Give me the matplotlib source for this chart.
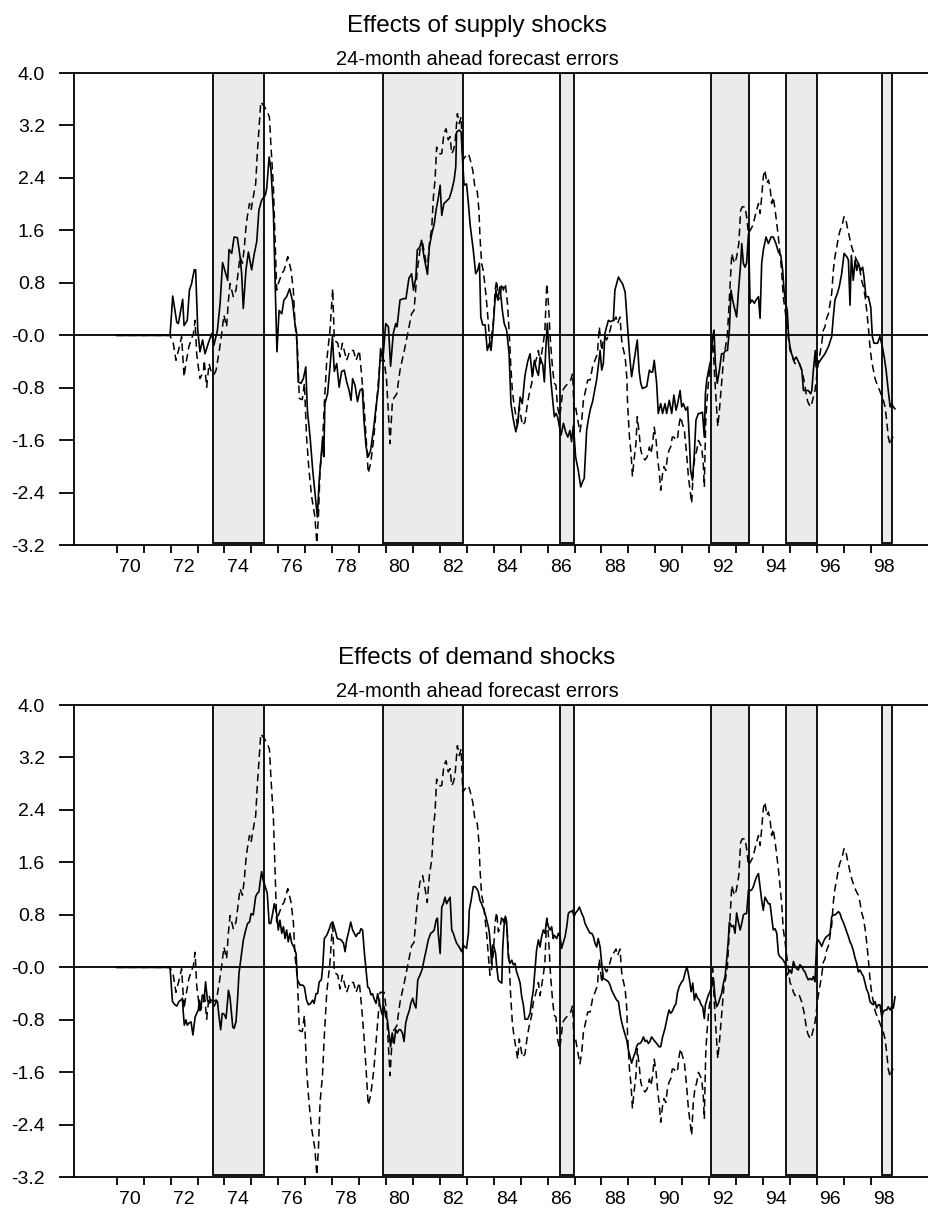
#!/usr/bin/env python3

import matplotlib
matplotlib.use('Agg')
import matplotlib.pyplot as plt  # type: ignore
from matplotlib.ticker import FixedLocator, FixedFormatter, NullFormatter

plt.rcParams['font.family'] = ['Liberation Sans', 'DejaVu Sans']

# recession bands (decimal years)
recessions = [(73.59, 75.48), (79.88, 82.85), (86.46, 86.99),
              (92.06, 93.49), (94.84, 95.99), (98.41, 98.78)]

# dashed line: total forecast errors, same in both panels (year, value)
baseline_pts = [
	(70.00, 0.00), (71.98, 0.00), (72.10, -0.12), (72.20, -0.38), (72.33, -0.17), (72.41, -0.02),
	(72.50, -0.63), (72.57, -0.43), (72.68, -0.17), (72.85, 0.03), (72.91, 0.23), (72.97, -0.28),
	(73.03, -0.48), (73.09, -0.66), (73.22, -0.55), (73.25, -0.38), (73.34, -0.79), (73.43, -0.43),
	(73.49, -0.53), (73.61, -0.60), (73.69, -0.53), (73.81, -0.23), (73.90, 0.03), (73.98, 0.31),
	(74.08, 0.13), (74.15, 0.54), (74.21, 0.79), (74.33, 0.59), (74.43, 0.69), (74.52, 1.00),
	(74.58, 1.20), (74.67, 1.10), (74.74, 1.35), (74.80, 1.65), (74.85, 1.81), (74.93, 2.01),
	(74.99, 1.91), (75.07, 2.11), (75.16, 2.31), (75.22, 2.77), (75.28, 3.13), (75.35, 3.56),
	(75.46, 3.50), (75.57, 3.43), (75.67, 3.33), (75.73, 2.87), (75.82, 2.26), (75.88, 1.50),
	(75.94, 0.69), (76.00, 0.79), (76.13, 0.94), (76.22, 1.00), (76.35, 1.20), (76.47, 1.00),
	(76.56, 0.69), (76.62, 0.18), (76.71, -0.17), (76.78, -0.96), (76.89, -0.98), (76.97, -0.73),
	(77.05, -1.55), (77.14, -2.06), (77.24, -2.46), (77.36, -2.77), (77.43, -3.17), (77.49, -2.77),
	(77.55, -2.06), (77.64, -1.65), (77.71, -1.04), (77.80, -0.38), (77.92, 0.08), (78.02, 0.71),
	(78.08, -0.07), (78.21, -0.12), (78.29, -0.33), (78.38, -0.12), (78.54, -0.38), (78.66, -0.23),
	(78.79, -0.23), (78.89, -0.38), (79.01, -0.23), (79.10, -0.63), (79.18, -1.04), (79.26, -1.55),
	(79.34, -2.10), (79.43, -1.95), (79.55, -1.55), (79.65, -1.04), (79.78, -0.38), (79.93, -0.38),
	(80.02, -0.68), (80.15, -1.65), (80.24, -0.99), (80.40, -0.89), (80.52, -0.53), (80.71, -0.17),
	(80.83, 0.08), (80.95, 0.33), (81.04, 0.38), (81.10, 0.69), (81.16, 0.99), (81.26, 1.30),
	(81.36, 1.40), (81.45, 1.20), (81.53, 0.99), (81.61, 1.40), (81.70, 1.65), (81.76, 2.11),
	(81.82, 2.37), (81.88, 2.87), (81.97, 2.77), (82.07, 2.77), (82.15, 3.08), (82.23, 3.15),
	(82.31, 2.98), (82.38, 3.03), (82.44, 2.77), (82.50, 2.82), (82.56, 2.92), (82.65, 3.38),
	(82.72, 3.23), (82.79, 3.33), (82.85, 2.67), (82.93, 2.72), (83.06, 2.77), (83.12, 2.69),
	(83.22, 2.52), (83.30, 2.26), (83.39, 2.19), (83.45, 1.91), (83.49, 1.50), (83.55, 1.10),
	(83.61, 0.99), (83.68, 0.74), (83.74, 0.49), (83.80, 0.18), (83.86, -0.12), (83.92, -0.02),
	(83.99, 0.23), (84.05, 0.69), (84.11, 0.84), (84.17, 0.54), (84.23, 0.59), (84.30, 0.79),
	(84.36, 0.69), (84.43, 0.79), (84.51, 0.49), (84.57, 0.08), (84.63, -0.43), (84.69, -0.84),
	(84.75, -1.04), (84.83, -1.24), (84.89, -1.40), (84.95, -1.09), (85.01, -1.24), (85.07, -1.37),
	(85.16, -1.32), (85.25, -1.04), (85.32, -0.89), (85.41, -0.73), (85.47, -0.53), (85.57, -0.38),
	(85.66, -0.23), (85.72, -0.43), (85.78, -0.28), (85.84, -0.12), (85.90, 0.08), (85.97, 0.79),
	(86.03, 0.49), (86.07, 0.18), (86.11, -0.12), (86.19, -0.53), (86.25, -0.73), (86.31, -0.76),
	(86.37, -1.09), (86.44, -1.24), (86.50, -1.09), (86.56, -0.84), (86.65, -0.78), (86.77, -0.73),
	(86.86, -0.68), (86.93, -0.58), (86.98, -1.14), (87.04, -1.09), (87.12, -1.29), (87.20, -1.47),
	(87.27, -1.29), (87.33, -0.99), (87.41, -0.84), (87.49, -0.68), (87.58, -0.68), (87.67, -0.48),
	(87.76, -0.38), (87.85, -0.28), (87.92, 0.13), (88.01, -0.23), (88.07, -0.07), (88.13, -0.02),
	(88.19, -0.07), (88.29, 0.03), (88.38, 0.18), (88.47, 0.23), (88.54, 0.28), (88.60, 0.18),
	(88.69, 0.28), (88.75, -0.07), (88.79, -0.17), (88.88, -0.33), (88.94, -0.63), (88.97, -1.04),
	(89.04, -1.55), (89.10, -1.80), (89.15, -2.15), (89.21, -1.90), (89.28, -1.65), (89.33, -1.24),
	(89.39, -1.45), (89.46, -1.75), (89.53, -1.85), (89.62, -1.90), (89.70, -1.85), (89.78, -1.70),
	(89.84, -1.80), (89.90, -1.65), (89.96, -1.40), (90.03, -1.60), (90.09, -1.90), (90.14, -2.06),
	(90.20, -2.36), (90.27, -2.11), (90.32, -2.00), (90.39, -2.06), (90.45, -1.85), (90.51, -1.75),
	(90.57, -1.70), (90.63, -1.55), (90.69, -1.55), (90.77, -1.60), (90.83, -1.55), (90.89, -1.34),
	(90.94, -1.24), (91.00, -1.34), (91.08, -1.45), (91.17, -1.85), (91.23, -2.16), (91.29, -2.36),
	(91.35, -2.56), (91.41, -2.06), (91.47, -1.85), (91.54, -1.75), (91.60, -1.60), (91.66, -1.65),
	(91.72, -1.70), (91.78, -1.95), (91.82, -2.31), (91.87, -1.34), (91.91, -1.04), (91.99, -0.63),
	(92.06, -0.43), (92.13, -0.02), (92.19, -0.53), (92.25, -0.94), (92.32, -1.39), (92.38, -1.14),
	(92.44, -0.84), (92.50, -0.53), (92.55, -0.28), (92.61, -0.17), (92.68, 0.03), (92.74, 0.49),
	(92.77, 0.74), (92.84, 1.25), (92.90, 1.15), (92.96, 1.10), (93.02, 1.20), (93.10, 1.40),
	(93.17, 1.91), (93.23, 1.96), (93.33, 1.96), (93.39, 1.81), (93.46, 1.55), (93.52, 1.60),
	(93.59, 1.65), (93.64, 1.70), (93.70, 1.81), (93.76, 1.91), (93.83, 2.01), (93.89, 1.86),
	(93.95, 2.11), (94.01, 2.42), (94.07, 2.52), (94.14, 2.32), (94.20, 2.37), (94.26, 2.26),
	(94.32, 2.01), (94.38, 2.11), (94.45, 1.91), (94.51, 1.70), (94.57, 1.50), (94.63, 1.25),
	(94.69, 0.99), (94.75, 0.59), (94.82, 0.38), (94.88, 0.18), (94.94, -0.02), (95.00, -0.23),
	(95.06, -0.28), (95.13, -0.38), (95.19, -0.43), (95.25, -0.40), (95.35, -0.43), (95.44, -0.53),
	(95.52, -0.68), (95.60, -0.89), (95.66, -1.01), (95.72, -1.06), (95.78, -1.09), (95.93, -0.84),
	(96.05, -0.43), (96.18, -0.12), (96.24, 0.08), (96.30, 0.13), (96.36, 0.26), (96.43, 0.33),
	(96.49, 0.49), (96.55, 0.64), (96.61, 0.99), (96.67, 1.20), (96.74, 1.35), (96.80, 1.50),
	(96.86, 1.60), (96.92, 1.65), (97.01, 1.81), (97.08, 1.76), (97.13, 1.65), (97.21, 1.50),
	(97.26, 1.40), (97.33, 1.30), (97.38, 1.25), (97.45, 1.17), (97.54, 1.10), (97.60, 0.99),
	(97.66, 0.84), (97.73, 0.74), (97.79, 0.59), (97.85, 0.38), (97.91, 0.13), (97.97, -0.17),
	(98.03, -0.38), (98.10, -0.53), (98.16, -0.66), (98.22, -0.73), (98.34, -0.85), (98.47, -0.99),
	(98.53, -1.09), (98.59, -1.29), (98.65, -1.55), (98.72, -1.67), (98.78, -1.57), (98.84, -1.55),
]

# solid line, top panel: effects of supply shocks (year, value)
supply_pts = [
	(70.00, 0.00), (71.98, 0.00), (72.08, 0.60), (72.23, 0.20), (72.29, 0.18), (72.45, 0.55),
	(72.50, 0.15), (72.62, 0.23), (72.70, 0.69), (72.78, 0.79), (72.88, 1.00), (72.93, 1.00),
	(73.01, 0.08), (73.09, -0.25), (73.19, -0.07), (73.28, -0.28), (73.40, -0.12), (73.53, 0.03),
	(73.61, -0.15), (73.74, 0.08), (73.84, 0.49), (73.93, 1.11), (74.05, 0.94), (74.12, 0.84),
	(74.17, 1.31), (74.27, 1.25), (74.36, 1.50), (74.48, 1.49), (74.58, 1.20), (74.64, 0.94),
	(74.70, 0.41), (74.80, 1.00), (74.89, 1.27), (75.01, 1.00), (75.11, 1.25), (75.20, 1.43),
	(75.28, 1.91), (75.38, 2.06), (75.52, 2.14), (75.57, 2.24), (75.66, 2.72), (75.73, 2.52),
	(75.82, 1.86), (75.88, 0.84), (75.95, -0.25), (76.03, 0.38), (76.13, 0.33), (76.21, 0.54),
	(76.31, 0.59), (76.42, 0.71), (76.52, 0.54), (76.62, 0.18), (76.68, 0.03), (76.74, -0.71),
	(76.84, -0.73), (76.93, -0.66), (77.02, -0.48), (77.08, -1.14), (77.18, -1.55), (77.28, -2.06),
	(77.36, -2.39), (77.45, -2.77), (77.52, -2.20), (77.60, -1.80), (77.65, -1.55), (77.69, -1.85),
	(77.73, -1.04), (77.83, -0.89), (77.92, -0.48), (78.01, -0.02), (78.08, -0.55), (78.17, -0.43),
	(78.26, -0.79), (78.35, -0.55), (78.45, -0.53), (78.54, -0.71), (78.63, -0.84), (78.70, -0.99),
	(78.76, -0.66), (78.85, -0.76), (78.94, -1.01), (79.03, -0.84), (79.12, -0.81), (79.18, -1.29),
	(79.26, -1.70), (79.34, -1.85), (79.43, -1.75), (79.53, -1.45), (79.63, -1.09), (79.72, -0.79),
	(79.80, -0.20), (79.88, -0.38), (79.99, 0.18), (80.09, 0.13), (80.17, -0.47), (80.27, 0.03),
	(80.36, 0.18), (80.41, 0.13), (80.52, 0.54), (80.64, 0.56), (80.74, 0.56), (80.85, 0.87),
	(80.95, 0.94), (81.02, 0.69), (81.11, 0.89), (81.16, 1.30), (81.26, 1.35), (81.32, 1.45),
	(81.41, 1.20), (81.54, 0.93), (81.61, 1.35), (81.70, 1.55), (81.79, 1.70), (81.86, 1.91),
	(81.94, 2.09), (82.01, 2.29), (82.07, 1.83), (82.15, 2.01), (82.23, 2.04), (82.35, 2.09),
	(82.44, 2.21), (82.53, 2.37), (82.59, 2.57), (82.62, 3.10), (82.72, 3.13), (82.79, 3.10),
	(82.85, 2.62), (82.90, 2.29), (82.99, 2.31), (83.06, 2.01), (83.12, 1.70), (83.18, 1.50),
	(83.24, 1.30), (83.33, 0.94), (83.40, 0.99), (83.47, 1.10), (83.52, 0.28), (83.59, 0.16),
	(83.68, 0.16), (83.76, -0.23), (83.84, -0.12), (83.90, -0.23), (83.97, 0.08), (84.04, 0.49),
	(84.08, 0.69), (84.15, 0.54), (84.23, 0.74), (84.32, 0.38), (84.39, 0.18), (84.48, 0.08),
	(84.57, -0.28), (84.64, -1.04), (84.73, -1.29), (84.82, -1.47), (84.89, -1.34), (84.98, -0.94),
	(85.06, -1.04), (85.16, -0.61), (85.26, -0.40), (85.35, -0.28), (85.43, -0.63), (85.51, -0.38),
	(85.59, -0.53), (85.66, -0.61), (85.72, -0.33), (85.82, -0.45), (85.88, -0.71), (85.93, -0.23),
	(85.99, 0.18), (86.07, -0.38), (86.13, -0.73), (86.19, -0.99), (86.25, -1.24), (86.31, -1.19),
	(86.37, -1.24), (86.44, -1.39), (86.50, -1.52), (86.59, -1.34), (86.67, -1.47), (86.75, -1.55),
	(86.83, -1.45), (86.89, -1.62), (86.96, -1.37), (87.04, -1.85), (87.14, -2.06), (87.23, -2.31),
	(87.30, -2.23), (87.36, -2.18), (87.45, -1.45), (87.51, -1.29), (87.58, -1.14), (87.67, -1.01),
	(87.74, -0.86), (87.82, -0.68), (87.88, -0.48), (87.95, -0.23), (88.01, -0.53), (88.07, -0.43),
	(88.13, 0.03), (88.19, 0.13), (88.26, 0.23), (88.34, 0.21), (88.44, 0.23), (88.50, 0.69),
	(88.63, 0.89), (88.71, 0.83), (88.78, 0.79), (88.88, 0.66), (88.96, 0.18), (89.04, -0.28),
	(89.12, -0.63), (89.25, -0.28), (89.33, -0.07), (89.40, -0.55), (89.46, -0.73), (89.52, -0.81),
	(89.68, -0.78), (89.78, -0.53), (89.84, -0.56), (89.90, -0.56), (89.96, -0.38), (90.05, -0.73),
	(90.11, -1.19), (90.20, -1.04), (90.27, -1.19), (90.36, -1.04), (90.42, -1.19), (90.52, -0.99),
	(90.61, -1.19), (90.69, -0.91), (90.77, -1.14), (90.83, -1.04), (90.92, -0.84), (90.98, -1.09),
	(91.04, -1.04), (91.13, -1.14), (91.20, -1.09), (91.26, -1.55), (91.31, -2.06), (91.38, -2.21),
	(91.45, -1.80), (91.51, -1.29), (91.60, -1.19), (91.66, -1.19), (91.75, -1.17), (91.82, -1.55),
	(91.86, -0.89), (91.91, -0.68), (91.99, -0.51), (92.06, -0.38), (92.13, -0.02), (92.18, 0.08),
	(92.23, -0.43), (92.30, -0.73), (92.38, -0.53), (92.46, -0.28), (92.53, -0.28), (92.61, -0.23),
	(92.68, -0.23), (92.75, 0.08), (92.81, 0.69), (92.87, 0.54), (92.96, 0.38), (93.02, 0.28),
	(93.10, 0.74), (93.17, 1.10), (93.21, 1.40), (93.27, 1.10), (93.33, 1.04), (93.39, 1.10),
	(93.46, 1.55), (93.52, 0.49), (93.59, 0.54), (93.68, 0.49), (93.74, 0.54), (93.83, 0.59),
	(93.89, 0.26), (93.95, 1.10), (94.01, 1.30), (94.11, 1.50), (94.20, 1.40), (94.30, 1.50),
	(94.38, 1.50), (94.48, 1.40), (94.57, 1.27), (94.66, 1.22), (94.73, 0.99), (94.78, 0.69),
	(94.84, 0.49), (94.90, 0.38), (94.95, -0.02), (95.00, -0.17), (95.06, -0.28), (95.15, -0.38),
	(95.23, -0.33), (95.29, -0.38), (95.35, -0.43), (95.44, -0.53), (95.50, -0.84), (95.60, -0.84),
	(95.68, -0.84), (95.77, -0.89), (95.81, -0.84), (95.87, -0.53), (95.94, -0.23), (95.97, -0.48),
	(96.05, -0.43), (96.18, -0.35), (96.30, -0.28), (96.43, -0.17), (96.55, -0.02), (96.61, 0.28),
	(96.67, 0.54), (96.76, 0.64), (96.83, 0.74), (96.92, 0.94), (97.01, 1.25), (97.11, 1.20),
	(97.17, 1.15), (97.23, 0.46), (97.28, 1.22), (97.35, 0.84), (97.42, 1.15), (97.48, 0.99),
	(97.54, 1.10), (97.63, 0.99), (97.70, 1.04), (97.75, 0.89), (97.82, 0.59), (97.91, 0.59),
	(98.00, 0.43), (98.06, -0.02), (98.12, -0.12), (98.25, -0.12), (98.34, -0.02), (98.43, -0.17),
	(98.50, -0.33), (98.57, -0.53), (98.65, -0.84), (98.72, -1.09), (98.78, -1.04), (98.84, -1.09),
	(98.90, -1.12),
]

# solid line, bottom panel: effects of demand shocks (year, value)
demand_pts = [
	(70.00, 0.00), (71.98, 0.00), (72.02, -0.24), (72.07, -0.52), (72.16, -0.57), (72.23, -0.59),
	(72.31, -0.52), (72.38, -0.50), (72.44, -0.47), (72.47, -0.68), (72.51, -0.88), (72.57, -0.80),
	(72.62, -0.88), (72.68, -0.85), (72.76, -0.83), (72.83, -1.03), (72.91, -0.76), (72.97, -0.70),
	(73.03, -0.65), (73.07, -0.50), (73.12, -0.65), (73.18, -0.42), (73.25, -0.47), (73.30, -0.22),
	(73.37, -0.50), (73.43, -0.55), (73.46, -0.50), (73.53, -0.50), (73.61, -0.52), (73.67, -0.50),
	(73.74, -0.52), (73.80, -0.75), (73.86, -0.95), (73.92, -0.70), (74.00, -0.72), (74.06, -0.78),
	(74.15, -0.35), (74.21, -0.47), (74.31, -0.91), (74.36, -0.93), (74.43, -0.83), (74.49, -0.47),
	(74.54, -0.09), (74.62, 0.16), (74.70, 0.41), (74.79, 0.57), (74.86, 0.67), (74.93, 0.69),
	(74.99, 0.82), (75.07, 0.80), (75.16, 1.08), (75.22, 1.13), (75.28, 1.15), (75.32, 1.28),
	(75.38, 1.46), (75.44, 1.33), (75.53, 1.21), (75.59, 1.13), (75.66, 0.67), (75.72, 0.67),
	(75.79, 0.82), (75.85, 0.97), (75.94, 0.82), (76.00, 0.57), (76.06, 0.72), (76.13, 0.52),
	(76.19, 0.62), (76.25, 0.44), (76.31, 0.57), (76.37, 0.39), (76.43, 0.52), (76.50, 0.37),
	(76.58, 0.31), (76.66, 0.21), (76.71, -0.19), (76.81, -0.27), (76.91, -0.27), (76.97, -0.30),
	(77.05, -0.50), (77.12, -0.57), (77.20, -0.55), (77.28, -0.50), (77.33, -0.55), (77.40, -0.40),
	(77.46, -0.40), (77.52, -0.22), (77.60, -0.19), (77.65, 0.01), (77.71, 0.44), (77.80, 0.49),
	(77.88, 0.57), (77.96, 0.67), (78.02, 0.69), (78.11, 0.57), (78.19, 0.44), (78.27, 0.43),
	(78.33, 0.42), (78.42, 0.37), (78.48, 0.24), (78.54, 0.42), (78.60, 0.52), (78.69, 0.69),
	(78.76, 0.57), (78.82, 0.52), (78.89, 0.47), (78.95, 0.52), (79.01, 0.52), (79.07, 0.59),
	(79.13, 0.57), (79.20, 0.21), (79.26, -0.04), (79.32, -0.30), (79.38, -0.32), (79.44, -0.42),
	(79.50, -0.40), (79.55, -0.47), (79.63, -0.55), (79.69, -0.40), (79.75, -0.52), (79.81, -0.65),
	(79.86, -0.72), (79.93, -0.60), (79.99, -0.75), (80.05, -0.80), (80.11, -1.00), (80.17, -1.21),
	(80.23, -1.00), (80.30, -1.16), (80.36, -0.95), (80.42, -1.00), (80.48, -0.95), (80.54, -0.95),
	(80.61, -1.00), (80.67, -1.13), (80.73, -0.85), (80.79, -0.75), (80.87, -0.65), (80.92, -0.55),
	(80.99, -0.47), (81.04, -0.55), (81.11, -0.62), (81.18, -0.19), (81.26, -0.12), (81.35, -0.02),
	(81.41, 0.11), (81.49, 0.26), (81.57, 0.42), (81.66, 0.52), (81.73, 0.54), (81.79, 0.57),
	(81.86, 0.72), (81.91, 0.75), (81.94, 0.52), (82.01, 0.21), (82.07, 0.92), (82.13, 0.97),
	(82.19, 1.07), (82.25, 0.97), (82.31, 1.02), (82.38, 1.07), (82.44, 0.57), (82.50, 0.52),
	(82.56, 0.44), (82.62, 0.37), (82.72, 0.31), (82.81, 0.24), (82.87, 0.34), (82.93, 0.31),
	(82.99, 0.29), (83.06, 0.52), (83.09, 0.87), (83.16, 1.02), (83.24, 1.23), (83.31, 1.23),
	(83.37, 1.20), (83.43, 1.15), (83.49, 1.02), (83.55, 0.97), (83.61, 0.90), (83.68, 0.82),
	(83.74, 0.72), (83.80, 0.62), (83.84, 0.52), (83.89, 0.26), (83.92, 0.06), (83.96, 0.34),
	(84.01, 0.31), (84.07, 0.21), (84.11, 0.01), (84.17, -0.19), (84.23, -0.22), (84.30, -0.24),
	(84.33, 0.26), (84.38, 0.62), (84.43, 0.78), (84.48, 0.70), (84.54, 0.16), (84.60, 0.06),
	(84.67, 0.11), (84.73, 0.04), (84.79, 0.06), (84.85, -0.07), (84.91, -0.14), (84.98, -0.24),
	(85.04, -0.45), (85.10, -0.57), (85.16, -0.79), (85.26, -0.79), (85.35, -0.70), (85.41, -0.50),
	(85.47, -0.35), (85.53, -0.04), (85.59, 0.26), (85.66, 0.42), (85.72, 0.31), (85.78, 0.47),
	(85.84, 0.57), (85.90, 0.52), (85.97, 0.72), (86.03, 0.62), (86.09, 0.57), (86.15, 0.62),
	(86.21, 0.44), (86.25, 0.49), (86.34, 0.44), (86.40, 0.52), (86.46, 0.47), (86.52, 0.29),
	(86.59, 0.39), (86.65, 0.47), (86.71, 0.62), (86.77, 0.82), (86.83, 0.85), (86.89, 0.85),
	(86.93, 0.87), (86.98, 0.77), (87.04, 0.83), (87.12, 0.87), (87.18, 0.92), (87.27, 0.82),
	(87.33, 0.77), (87.39, 0.67), (87.45, 0.62), (87.51, 0.57), (87.58, 0.52), (87.64, 0.52),
	(87.70, 0.47), (87.76, 0.37), (87.82, 0.31), (87.88, 0.44), (87.95, 0.31), (88.01, 0.06),
	(88.07, -0.17), (88.17, -0.19), (88.26, -0.22), (88.32, -0.27), (88.38, -0.35), (88.44, -0.40),
	(88.50, -0.45), (88.57, -0.50), (88.63, -0.52), (88.69, -0.70), (88.75, -0.83), (88.81, -0.93),
	(88.88, -1.03), (88.94, -1.11), (89.00, -1.26), (89.06, -1.36), (89.12, -1.46), (89.18, -1.38),
	(89.25, -1.30), (89.31, -1.20), (89.37, -1.16), (89.43, -1.16), (89.49, -1.13), (89.56, -1.06),
	(89.62, -1.13), (89.68, -1.11), (89.74, -1.16), (89.80, -1.13), (89.86, -1.06), (89.95, -1.11),
	(90.05, -1.16), (90.14, -1.21), (90.20, -1.21), (90.27, -1.06), (90.36, -0.93), (90.45, -0.75),
	(90.51, -0.65), (90.57, -0.70), (90.63, -0.67), (90.70, -0.60), (90.77, -0.55), (90.82, -0.39),
	(90.89, -0.29), (90.98, -0.22), (91.04, -0.19), (91.10, -0.09), (91.17, 0.01), (91.20, -0.04),
	(91.26, -0.17), (91.33, -0.37), (91.39, -0.24), (91.45, -0.50), (91.51, -0.40), (91.57, -0.47),
	(91.64, -0.50), (91.70, -0.57), (91.76, -0.60), (91.82, -0.78), (91.86, -0.57), (91.91, -0.50),
	(91.97, -0.42), (92.03, -0.37), (92.09, -0.30), (92.16, -0.17), (92.22, -0.47), (92.28, -0.60),
	(92.34, -0.55), (92.40, -0.47), (92.46, -0.40), (92.53, -0.24), (92.59, -0.14), (92.65, 0.11),
	(92.71, 0.41), (92.75, 0.69), (92.84, 0.62), (92.90, 0.64), (92.96, 0.52), (93.02, 0.83),
	(93.08, 0.70), (93.15, 0.57), (93.21, 0.67), (93.27, 0.80), (93.33, 0.82), (93.39, 0.82),
	(93.46, 1.18), (93.52, 1.17), (93.58, 1.18), (93.64, 1.23), (93.70, 1.31), (93.76, 1.38),
	(93.83, 1.43), (93.89, 1.23), (93.95, 1.02), (94.01, 0.87), (94.07, 1.07), (94.14, 1.02),
	(94.20, 0.97), (94.26, 0.97), (94.32, 0.77), (94.38, 0.57), (94.45, 0.59), (94.51, 0.52),
	(94.57, 0.21), (94.63, 0.16), (94.69, 0.14), (94.75, 0.11), (94.82, 0.06), (94.88, -0.12),
	(94.94, -0.09), (95.00, -0.04), (95.06, -0.09), (95.13, 0.09), (95.19, 0.01), (95.25, -0.02),
	(95.31, -0.04), (95.37, 0.04), (95.44, 0.01), (95.50, -0.04), (95.56, -0.07), (95.62, -0.14),
	(95.68, -0.19), (95.74, -0.17), (95.81, -0.19), (95.87, -0.14), (95.93, -0.22), (95.99, 0.37),
	(96.05, 0.42), (96.12, 0.37), (96.18, 0.32), (96.24, 0.39), (96.30, 0.44), (96.36, 0.47),
	(96.43, 0.49), (96.49, 0.52), (96.55, 0.77), (96.61, 0.80), (96.67, 0.80), (96.73, 0.82),
	(96.80, 0.85), (96.86, 0.82), (96.92, 0.74), (96.98, 0.69), (97.04, 0.62), (97.11, 0.54),
	(97.17, 0.47), (97.23, 0.39), (97.29, 0.34), (97.35, 0.26), (97.42, 0.14), (97.48, 0.06),
	(97.54, -0.07), (97.60, -0.04), (97.66, -0.09), (97.73, -0.14), (97.79, -0.24), (97.85, -0.34),
	(97.91, -0.39), (97.97, -0.52), (98.03, -0.55), (98.10, -0.57), (98.16, -0.52), (98.22, -0.62),
	(98.28, -0.57), (98.34, -0.57), (98.41, -0.75), (98.47, -0.67), (98.53, -0.65), (98.59, -0.65),
	(98.65, -0.60), (98.72, -0.65), (98.78, -0.60), (98.84, -0.62), (98.90, -0.45),
]

y_ticks = [-3.2, -2.4, -1.6, -0.8, 0.0, 0.8, 1.6, 2.4, 3.2, 4.0]
y_labels = ['-3.2', '-2.4', '-1.6', '-0.8', '-0.0', '0.8', '1.6', '2.4', '3.2', '4.0']
year_ticks = list(range(70, 99))
year_labels = ['70', '72', '74', '76', '78', '80', '82', '84', '86', '88', '90', '92', '94', '96', '98']

panels = [
	('Effects of supply shocks', supply_pts),
	('Effects of demand shocks', demand_pts),
]
subtitle = '24-month ahead forecast errors'

W, H = 929, 1211
AX_LEFT = 74
AX_TOPS = [73, 705]
AX_H = 472.3
TITLE_X = 477

def draw_panel(fig, top_px, title, pts):
	ax = fig.add_axes([AX_LEFT / W, 1 - (top_px + AX_H) / H, 1 - AX_LEFT / W, AX_H / H])
	ax.set_xlim(68.414, 100.163)
	ax.set_ylim(-3.2, 4.0)

	for start, end in recessions:
		ax.axvspan(start, end, ymin=0.004, ymax=1.0, facecolor='#ebebeb',
				   edgecolor='black', lw=1.3, zorder=1)
	ax.axhline(0.0, color='black', lw=1.3, zorder=2)

	t, v = zip(*baseline_pts)
	ax.plot(t, v, color='black', lw=1.1, ls=(0, (5, 3)), zorder=3)
	t, v = zip(*pts)
	ax.plot(t, v, color='black', lw=1.2, zorder=4)

	for side in ['left', 'top', 'bottom']:
		ax.spines[side].set_linewidth(1.3)
	ax.spines['right'].set_visible(False)

	ax.yaxis.set_major_locator(FixedLocator(y_ticks))
	ax.yaxis.set_major_formatter(FixedFormatter(y_labels))
	ax.tick_params(axis='y', direction='out', length=10.8, width=1.3, pad=10, labelsize=14)

	ax.xaxis.set_major_locator(FixedLocator(year_ticks))
	ax.xaxis.set_major_formatter(NullFormatter())
	ax.xaxis.set_minor_locator(FixedLocator([int(s) + 0.5 for s in year_labels]))
	ax.xaxis.set_minor_formatter(FixedFormatter(year_labels))
	ax.tick_params(axis='x', which='major', direction='out', length=5.8, width=1.3)
	ax.tick_params(axis='x', which='minor', length=0, pad=10, labelsize=14)

	fig.text(TITLE_X / W, 1 - (top_px - 41.3) / H, title, ha='center', va='baseline', fontsize=17.5)
	fig.text(TITLE_X / W, 1 - (top_px - 8.0) / H, subtitle, ha='center', va='baseline', fontsize=14.5)
	return ax

def main() -> None:
	fig = plt.figure(figsize=(W / 100, H / 100), dpi=100)
	for top_px, (title, pts) in zip(AX_TOPS, panels):
		draw_panel(fig, top_px, title, pts)
	fig.savefig('out.png', dpi=100)

if __name__ == '__main__':
	main()
